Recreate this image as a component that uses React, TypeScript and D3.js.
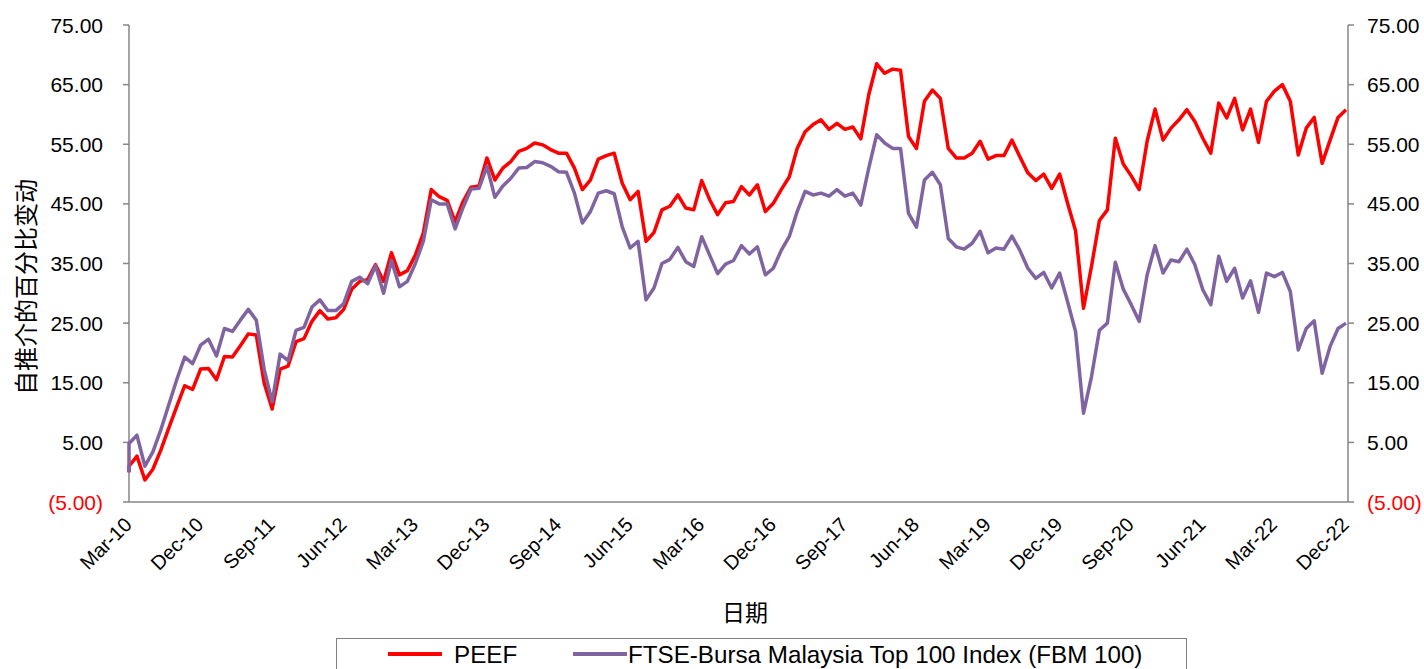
import { useEffect, useRef } from 'react';
import { select, scaleLinear, line } from 'd3';

// monthly % change since inception, Mar-10 .. Dec-22 (154 months)
// both series start from a 0 base inside the first month
const baseValue = 0;

const peef = [
  1.0, 2.7, -1.3, 0.5, 3.7, 7.4, 11.0, 14.5, 13.9, 17.3, 17.4, 15.5, 19.4, 19.3, 21.2, 23.2, 23.0, 14.9,
  10.6, 17.3, 17.8, 21.9, 22.4, 25.3, 27.1, 25.7, 25.9, 27.3, 30.7, 32.0, 32.3, 34.8, 32.0, 36.8, 33.1, 33.8,
  36.4, 40.1, 47.4, 46.2, 45.6, 42.0, 45.4, 47.8, 48.0, 52.7, 49.0, 51.0, 52.1, 53.8, 54.3, 55.2, 54.9, 54.1,
  53.5, 53.5, 51.0, 47.4, 49.0, 52.5, 53.1, 53.5, 48.5, 45.7, 47.1, 38.7, 40.2, 44.0, 44.6, 46.5, 44.3, 44.0,
  48.9, 45.7, 43.2, 45.2, 45.4, 47.9, 46.5, 48.2, 43.7, 45.1, 47.4, 49.5, 54.3, 57.1, 58.3, 59.1, 57.5, 58.5,
  57.5, 57.9, 55.9, 63.3, 68.5, 66.9, 67.6, 67.4, 56.3, 54.3, 62.2, 64.1, 62.7, 54.3, 52.7, 52.7, 53.5, 55.5,
  52.5, 53.1, 53.1, 55.7, 52.9, 50.2, 48.9, 50.0, 47.6, 50.0, 45.1, 40.5, 27.5, 34.5, 42.2, 44.0, 56.0, 51.7,
  49.7, 47.4, 55.5, 60.9, 55.7, 57.7, 59.1, 60.8, 58.8, 56.0, 53.5, 61.9, 59.4, 62.7, 57.4, 60.9, 55.3, 62.2,
  63.9, 65.0, 62.2, 53.2, 57.7, 59.5, 51.8, 55.7, 59.5, 60.8,
];

const fbm100 = [
  4.8, 6.2, 1.0, 3.4, 7.1, 11.3, 15.5, 19.3, 18.2, 21.3, 22.3, 19.5, 24.1, 23.6, 25.5, 27.3, 25.5, 17.2,
  11.8, 19.8, 18.7, 23.8, 24.3, 27.7, 28.9, 27.1, 27.1, 28.3, 32.0, 32.7, 31.6, 34.6, 30.0, 35.5, 31.1, 32.0,
  35.0, 38.7, 45.7, 45.0, 45.0, 40.8, 44.4, 47.5, 47.6, 51.3, 46.1, 48.0, 49.3, 51.0, 51.1, 52.1, 51.9, 51.3,
  50.4, 50.3, 46.8, 41.8, 43.7, 46.8, 47.2, 46.7, 41.2, 37.6, 38.7, 28.9, 30.9, 35.0, 35.7, 37.7, 35.3, 34.5,
  39.5, 36.4, 33.3, 34.9, 35.5, 38.0, 36.6, 37.8, 33.1, 34.2, 37.2, 39.5, 43.7, 47.1, 46.5, 46.8, 46.3, 47.4,
  46.3, 46.8, 44.8, 51.0, 56.6, 55.2, 54.3, 54.3, 43.4, 41.1, 49.0, 50.3, 48.2, 39.2, 37.8, 37.4, 38.4, 40.4,
  36.8, 37.6, 37.4, 39.6, 37.2, 34.2, 32.5, 33.5, 30.9, 33.4, 28.6, 23.6, 9.9, 16.0, 23.8, 25.0, 35.2, 30.7,
  28.1, 25.3, 33.1, 38.0, 33.4, 35.6, 35.3, 37.4, 34.8, 30.6, 28.1, 36.2, 32.0, 34.2, 29.2, 32.1, 26.8, 33.4,
  32.8, 33.5, 30.3, 20.5, 24.1, 25.4, 16.6, 21.1, 24.1, 25.0,
];

const xTickLabels = [
  'Mar-10', 'Dec-10', 'Sep-11', 'Jun-12', 'Mar-13', 'Dec-13', 'Sep-14', 'Jun-15', 'Mar-16',
  'Dec-16', 'Sep-17', 'Jun-18', 'Mar-19', 'Dec-19', 'Sep-20', 'Jun-21', 'Mar-22', 'Dec-22',
];
const yTicks = [-5, 5, 15, 25, 35, 45, 55, 65, 75];

const seriesNames = ['PEEF', 'FTSE-Bursa Malaysia Top 100 Index (FBM 100)'];
const seriesColors = ['#ff0000', '#8064a2'];

const yLabel = '自推介的百分比变动';
const xLabel = '日期';

const latin = '"Liberation Sans", Arial, sans-serif';
const cjk = '"Noto Sans CJK SC", "Liberation Sans", sans-serif';

const fmt = (v) => (v < 0 ? `(${Math.abs(v).toFixed(2)})` : v.toFixed(2));

const App = () => {
  const svgRef = useRef(null);

  useEffect(() => {
    const width = 1424;
    const height = 669;
    const left = 129;
    const right = 1348;
    const top = 25;
    const bottom = 502;
    const lastMonth = peef.length - 1;

    const svg = select(svgRef.current);
    svg.selectAll('*').remove();
    svg.attr('width', width).attr('height', height);

    const x = scaleLinear().domain([0, lastMonth]).range([left, right - 2]);
    const y = scaleLinear().domain([-5, 75]).range([bottom, top]);

    const axisColor = '#868686';

    // axes lines
    svg.append('line').attr('x1', left).attr('x2', left).attr('y1', top).attr('y2', bottom)
      .attr('stroke', axisColor).attr('stroke-width', 1.5);
    svg.append('line').attr('x1', right).attr('x2', right).attr('y1', top).attr('y2', bottom)
      .attr('stroke', axisColor).attr('stroke-width', 1.5);

    // y ticks + labels, both sides
    yTicks.forEach((t) => {
      const yy = y(t);
      svg.append('line').attr('x1', left - 6).attr('x2', left).attr('y1', yy).attr('y2', yy)
        .attr('stroke', axisColor).attr('stroke-width', 1.5);
      svg.append('line').attr('x1', right).attr('x2', right + 6).attr('y1', yy).attr('y2', yy)
        .attr('stroke', axisColor).attr('stroke-width', 1.5);
      const col = t < 0 ? '#ff0000' : '#000000';
      svg.append('text').attr('x', 103).attr('y', yy).attr('dy', '0.36em')
        .attr('text-anchor', 'end').attr('font-family', latin).attr('font-size', 21)
        .attr('fill', col).text(fmt(t));
      svg.append('text').attr('x', 1367).attr('y', yy).attr('dy', '0.36em')
        .attr('text-anchor', 'start').attr('font-family', latin).attr('font-size', 21)
        .attr('fill', col).text(fmt(t));
    });

    // x axis line
    svg.append('line').attr('x1', left).attr('x2', right).attr('y1', bottom).attr('y2', bottom)
      .attr('stroke', axisColor).attr('stroke-width', 1.5);

    // x tick labels, one every 9 months, rotated
    xTickLabels.forEach((lab, i) => {
      const xx = x(i * 9);
      svg.append('text')
        .attr('transform', `translate(${xx + 4},${bottom + 24}) rotate(-45)`)
        .attr('text-anchor', 'end').attr('font-family', latin).attr('font-size', 20)
        .attr('fill', '#000').text(lab);
    });

    // lines
    const toPoints = (vals) => [{ m: 0, v: baseValue }, ...vals.map((v, i) => ({ m: i, v }))];
    const path = line().x((d) => x(d.m)).y((d) => y(d.v));
    [peef, fbm100].forEach((vals, k) => {
      svg.append('path').datum(toPoints(vals))
        .attr('fill', 'none').attr('stroke', seriesColors[k]).attr('stroke-width', 3.5)
        .attr('stroke-linejoin', 'round').attr('d', path);
    });

    // axis titles
    svg.append('text').attr('transform', 'translate(35,287) rotate(-90)')
      .attr('text-anchor', 'middle').attr('font-family', cjk).attr('font-size', 24)
      .attr('fill', '#000').text(yLabel);
    svg.append('text').attr('x', 745).attr('y', 621)
      .attr('text-anchor', 'middle').attr('font-family', cjk).attr('font-size', 23)
      .attr('fill', '#000').text(xLabel);

    // legend
    svg.append('rect').attr('x', 336.5).attr('y', 638.5).attr('width', 850).attr('height', 45)
      .attr('fill', '#fff').attr('stroke', '#808080').attr('stroke-width', 1);
    const legendX = [388, 573];
    seriesNames.forEach((name, k) => {
      svg.append('line').attr('x1', legendX[k]).attr('x2', legendX[k] + 54)
        .attr('y1', 654).attr('y2', 654)
        .attr('stroke', seriesColors[k]).attr('stroke-width', 4);
      svg.append('text').attr('x', legendX[k] + (k === 0 ? 66 : 55)).attr('y', 663)
        .attr('font-family', latin).attr('font-size', 24.2).attr('fill', '#000').text(name);
    });
  }, []);

  return (
    <svg ref={svgRef} style={{ position: 'absolute', left: 0, top: 0, background: '#fff' }} />
  );
};

export default App;
